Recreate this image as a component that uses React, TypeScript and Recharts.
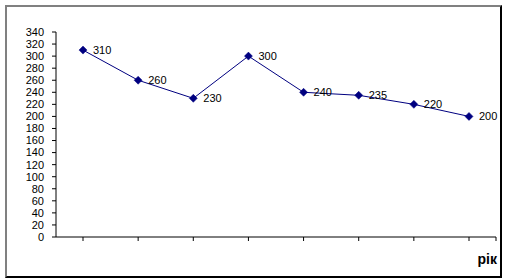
import React from "react";
import * as RC from "recharts";
import { LineChart, Line, XAxis, YAxis, LabelList } from "recharts";

const YEARS = ["1", "2", "3", "4", "5", "6", "7", "8"];
const VALUES = [310, 260, 230, 300, 240, 235, 220, 200];
const Y_TICKS = [0, 20, 40, 60, 80, 100, 120, 140, 160, 180, 200, 220, 240, 260, 280, 300, 320, 340];

const data = YEARS.map((year, i) => ({ year, value: VALUES[i] }));

const NAVY = "#000080";

function Diamond(props: any) {
  const { cx, cy } = props;
  if (cx == null || cy == null) return null;
  const r = 4;
  return (
    <polygon
      points={`${cx},${cy - r} ${cx + r},${cy} ${cx},${cy + r} ${cx - r},${cy}`}
      fill={NAVY}
      stroke={NAVY}
      strokeWidth={0.5}
    />
  );
}

// small tick at the right end of the category axis, like the original
function EndTick() {
  const usePlotArea = (RC as any).usePlotArea;
  const area = usePlotArea ? usePlotArea() : null;
  if (!area) return null;
  const x = area.x + area.width;
  const y = area.y + area.height;
  return <line x1={x} y1={y} x2={x} y2={y + 4} stroke="#000" />;
}

export default function App() {
  return (
    <div
      style={{
        position: "relative",
        width: 507,
        height: 280,
        background: "#fff",
        overflow: "hidden",
        fontFamily: "'Liberation Sans', Arial, sans-serif",
      }}
    >
      <style>{"html,body{margin:0;padding:0;}"}</style>
      <div
        style={{
          position: "absolute",
          left: 5,
          top: 5,
          width: 493,
          height: 269,
          borderTop: "2px solid #808080",
          borderLeft: "2px solid #808080",
          borderRight: "2px solid #000",
          borderBottom: "2px solid #000",
        }}
      />
      <div style={{ position: "absolute", left: 0, top: 0 }}>
        <LineChart
          width={507}
          height={280}
          data={data}
          margin={{ top: 32, right: 11, left: 0, bottom: 33 }}
        >
          <XAxis
            dataKey="year"
            padding={{ left: 27, right: 27 }}
            height={10}
            stroke="#000"
            tickSize={4}
            tickFormatter={() => ""}
            tickLine={{ stroke: "#000" }}
          />
          <YAxis
            width={56}
            domain={[0, 340]}
            ticks={Y_TICKS}
            interval={0}
            stroke="#000"
            tickSize={4}
            tickMargin={8}
            tick={{ fill: "#000", fontSize: 11 }}
          />
          <Line
            dataKey="value"
            stroke={NAVY}
            strokeWidth={1}
            dot={<Diamond />}
            activeDot={false}
            isAnimationActive={false}
          >
            <LabelList
              dataKey="value"
              position="right"
              offset={10}
              fill="#000"
              fontSize={11}
            />
          </Line>
          <EndTick />
        </LineChart>
      </div>
      <div
        style={{
          position: "absolute",
          right: 10,
          top: 251,
          fontSize: 14,
          fontWeight: "bold",
          color: "#000",
        }}
      >
        рік
      </div>
    </div>
  );
}
